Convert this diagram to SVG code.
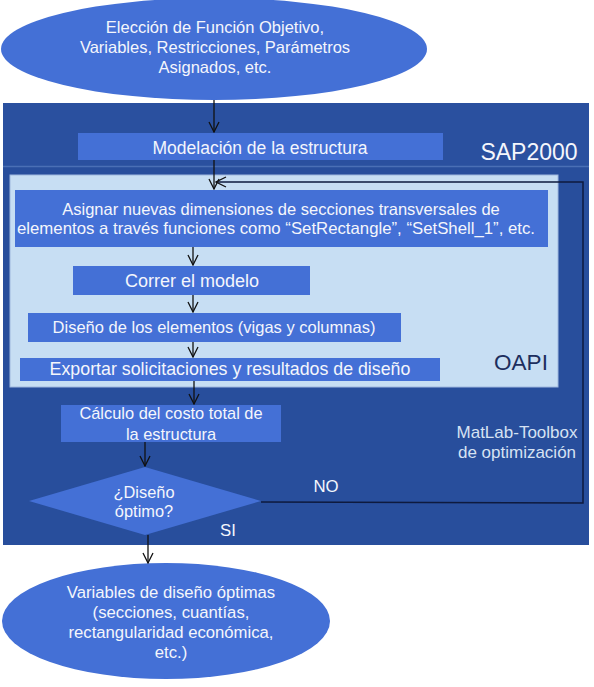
<svg xmlns="http://www.w3.org/2000/svg" width="594" height="687" viewBox="0 0 594 687">
<style>
.t{font-family:"Liberation Sans",Arial,sans-serif;fill:#F4F6FC;text-anchor:middle}
.box{fill:#4470D6}
.c{stroke:#111111;stroke-width:1.3;fill:none}
</style>
<defs>
<marker id="ah" viewBox="0 0 12 12" refX="11" refY="6" markerWidth="12" markerHeight="12" markerUnits="userSpaceOnUse" orient="auto">
<polyline points="1,1 11,6 1,11" fill="none" stroke="#111111" stroke-width="1.3"/>
</marker>
</defs>
<rect width="594" height="687" fill="#ffffff"/>
<g id="container">
<rect x="3" y="103" width="586" height="442" fill="#284E9C"/>
<rect x="3" y="103" width="586" height="63" fill="#2A509F"/>
<line x1="3" y1="166.5" x2="589" y2="166.5" stroke="#4A6FB5" stroke-width="1.5"/>
<text class="t" x="529" y="160" font-size="23">SAP2000</text>
<text class="t" x="517" y="438" font-size="17" style="fill:#D6E2F3">MatLab-Toolbox</text>
<text class="t" x="517" y="458" font-size="17" style="fill:#D6E2F3">de optimización</text>
</g>
<g id="oapi">
<rect x="10" y="175" width="548" height="212" fill="#C7DEF3" stroke="#9FB8DE" stroke-width="1"/>
<text x="521" y="370" font-size="22.5" font-family="Liberation Sans, Arial, sans-serif" text-anchor="middle" fill="#1C2E5E">OAPI</text>
</g>
<g id="start">
<ellipse cx="214" cy="49" rx="213" ry="51" fill="#4470D6"/>
<text class="t" x="215" y="33" font-size="16.5">Elección de Función Objetivo,</text>
<text class="t" x="215" y="53" font-size="16.5">Variables, Restricciones, Parámetros</text>
<text class="t" x="215" y="73" font-size="16.5">Asignados, etc.</text>
</g>
<g id="modelacion">
<rect class="box" x="78" y="133" width="365" height="27"/>
<text class="t" x="260" y="154" font-size="17.5">Modelación de la estructura</text>
</g>
<g id="asignar">
<rect class="box" x="15" y="190" width="533" height="57"/>
<text class="t" x="281" y="215" font-size="16.5">Asignar nuevas dimensiones de secciones transversales de</text>
<text class="t" x="276" y="234" font-size="16.5" textLength="518" lengthAdjust="spacingAndGlyphs">elementos a través funciones como “SetRectangle”, “SetShell_1”, etc.</text>
</g>
<g id="correr">
<rect class="box" x="73" y="266" width="237" height="29"/>
<text class="t" x="192" y="287" font-size="18">Correr el modelo</text>
</g>
<g id="diseno">
<rect class="box" x="28" y="313" width="373" height="29"/>
<text class="t" x="214" y="333" font-size="16.5">Diseño de los elementos (vigas y columnas)</text>
</g>
<g id="exportar">
<rect class="box" x="20" y="358" width="420" height="23"/>
<text class="t" x="230" y="375" font-size="17.8">Exportar solicitaciones y resultados de diseño</text>
</g>
<g id="calculo">
<rect class="box" x="61" y="405" width="220" height="37"/>
<text class="t" x="171" y="419" font-size="16.4">Cálculo del costo total de</text>
<text class="t" x="171" y="440" font-size="16.4">la estructura</text>
</g>
<g id="decision">
<polygon points="145,467 261,501 145,535 29,501" fill="#4470D6"/>
<text class="t" x="144" y="498" font-size="16.4">¿Diseño</text>
<text class="t" x="144" y="517" font-size="16.4">óptimo?</text>
</g>
<g id="end">
<ellipse cx="166" cy="621" rx="164" ry="58" fill="#4470D6"/>
<text class="t" x="171" y="598" font-size="16.7">Variables de diseño óptimas</text>
<text class="t" x="171" y="618" font-size="16.7">(secciones, cuantías,</text>
<text class="t" x="171" y="638" font-size="16.7">rectangularidad económica,</text>
<text class="t" x="171" y="658" font-size="16.7">etc.)</text>
</g>
<g id="connectors">
<line class="c" x1="214" y1="100" x2="214" y2="132" marker-end="url(#ah)"/>
<line class="c" x1="214" y1="160" x2="214" y2="189" marker-end="url(#ah)"/>
<line class="c" x1="193" y1="247" x2="193" y2="265" marker-end="url(#ah)"/>
<line class="c" x1="193" y1="295" x2="193" y2="312" marker-end="url(#ah)"/>
<line class="c" x1="193" y1="342" x2="193" y2="357" marker-end="url(#ah)"/>
<line class="c" x1="194" y1="381" x2="194" y2="404" marker-end="url(#ah)"/>
<line class="c" x1="145" y1="442" x2="145" y2="466" marker-end="url(#ah)"/>
<line class="c" x1="148" y1="535" x2="148" y2="563" marker-end="url(#ah)"/>
<polyline points="261,502 583,503 583,182 216,182" fill="none" stroke="#0E1A3E" stroke-width="1.5" marker-end="url(#ah)"/>
<text class="t" x="326" y="492" font-size="16.8">NO</text>
<text class="t" x="228" y="536" font-size="16.8">SI</text>
</g>
</svg>
